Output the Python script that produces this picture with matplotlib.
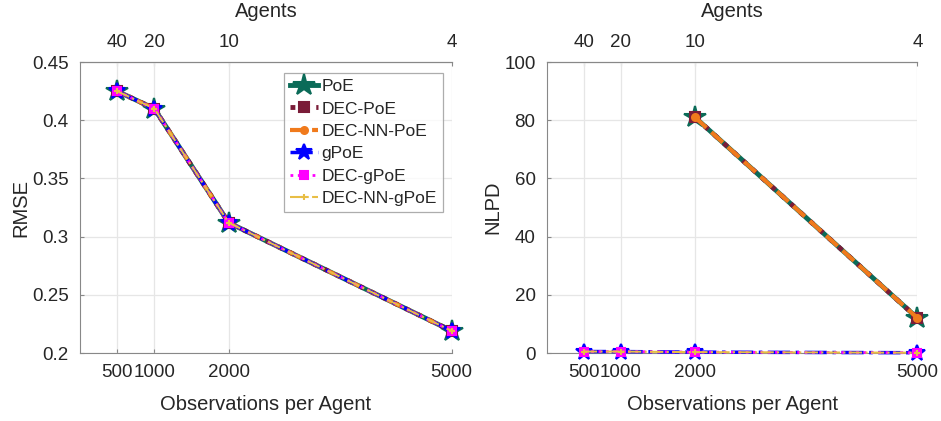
import numpy as np
import matplotlib
matplotlib.use("Agg")
import matplotlib.pyplot as plt

plt.rcParams['font.family'] = ['Liberation Sans', 'DejaVu Sans']

# --- data ---
obs = [500, 1000, 2000, 5000]
agents = ["40", "20", "10", "4"]
series = ["PoE", "DEC-PoE", "DEC-NN-PoE", "gPoE", "DEC-gPoE", "DEC-NN-gPoE"]

rmse = {
    "PoE": [0.425, 0.410, 0.312, 0.219],
    "DEC-PoE": [0.425, 0.410, 0.312, 0.219],
    "DEC-NN-PoE": [0.425, 0.410, 0.312, 0.219],
    "gPoE": [0.425, 0.410, 0.312, 0.219],
    "DEC-gPoE": [0.425, 0.410, 0.312, 0.219],
    "DEC-NN-gPoE": [0.425, 0.410, 0.312, 0.219],
}
nan = np.nan
nlpd = {
    "PoE": [nan, nan, 81.0, 12.0],
    "DEC-PoE": [nan, nan, 81.0, 12.0],
    "DEC-NN-PoE": [nan, nan, 81.0, 12.0],
    "gPoE": [0.5, 0.5, 0.3, 0.1],
    "DEC-gPoE": [0.5, 0.5, 0.3, 0.1],
    "DEC-NN-gPoE": [0.5, 0.5, 0.3, 0.1],
}

styles = {
    "PoE": dict(color="#0b6b58", ls="-", lw=3.5, marker="*", ms=16),
    "DEC-PoE": dict(color="#7a1c38", ls=":", lw=3.5, marker="s", ms=7),
    "DEC-NN-PoE": dict(color="#f07a1c", ls="--", lw=3, marker="o", ms=5),
    "gPoE": dict(color="#0000ff", ls="-.", lw=2.5, marker="*", ms=12),
    "DEC-gPoE": dict(color="#ff00ff", ls=":", lw=2, marker="s", ms=6),
    "DEC-NN-gPoE": dict(color="#e8be45", ls="-.", lw=1.5, marker="+", ms=5),
}

txt = "#262626"
axcol = "#888888"

fig = plt.figure(figsize=(9.41, 4.21), dpi=100)
ax1 = fig.add_axes([0.085, 0.1615, 0.395, 0.691])
ax2 = fig.add_axes([0.581, 0.1615, 0.394, 0.691])


def style_axes(ax, ylim, yticks, ylabel):
    ax.set_xlim(0, 5000)
    ax.set_ylim(*ylim)
    ax.set_xticks(obs)
    ax.set_xticklabels([str(o) for o in obs])
    ax.set_yticks(yticks)
    ax.set_yticklabels([f"{v:g}" for v in yticks])
    ax.grid(True, color="#e6e6e6", lw=0.9)
    ax.set_axisbelow(True)
    for s in ["left", "bottom", "top"]:
        ax.spines[s].set_color(axcol)
    ax.spines["right"].set_visible(False)
    ax.tick_params(direction="in", length=3, colors=axcol, labelcolor=txt,
                   labelsize=13.5, pad=8)
    ax.set_xlabel("Observations per Agent", fontsize=14.5, color=txt, labelpad=10)
    ax.set_ylabel(ylabel, fontsize=14.5, color=txt, labelpad=1)

    top = ax.secondary_xaxis("top")
    top.set_xticks(obs)
    top.set_xticklabels(agents)
    top.tick_params(direction="in", length=3, colors=axcol, labelcolor=txt,
                    labelsize=13.5, pad=8)
    top.spines["top"].set_color(axcol)
    top.set_xlabel("Agents", fontsize=14.5, color=txt, labelpad=12)


for name in series:
    st = styles[name]
    for ax, vals in [(ax1, rmse[name]), (ax2, nlpd[name])]:
        ax.plot(obs, vals, label=name, color=st["color"], ls=st["ls"],
                lw=st["lw"], marker=st["marker"], ms=st["ms"],
                mec=st["color"], mfc=st["color"], mew=1.5, clip_on=False,
                zorder=3)

style_axes(ax1, (0.2, 0.45), [0.2, 0.25, 0.3, 0.35, 0.4, 0.45], "RMSE")
style_axes(ax2, (0, 100), [0, 20, 40, 60, 80, 100], "NLPD")

leg = ax1.legend(loc="upper right", bbox_to_anchor=(0.985, 0.975), fontsize=12.5,
                 frameon=True, fancybox=False, edgecolor="#999999",
                 handlelength=1.6, handletextpad=0.2, borderpad=0.35,
                 labelspacing=0.42, borderaxespad=0.2)
leg.get_frame().set_linewidth(0.9)
for t in leg.get_texts():
    t.set_color(txt)

fig.savefig("out.png", dpi=100)
